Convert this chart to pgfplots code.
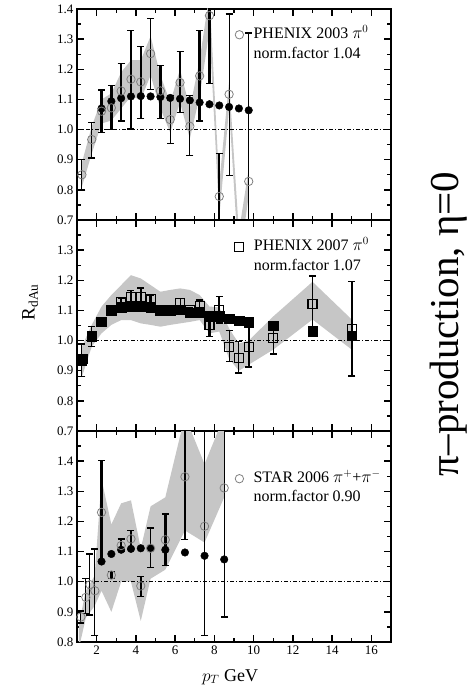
\documentclass[border=0pt]{standalone}
\usepackage{fontspec}
\setmainfont{Liberation Serif}
\usepackage{pgfplots}
\pgfplotsset{compat=1.18}

\pgfplotsset{
  panel/.style={
    at={(77pt,#1)}, anchor=south west,
    width=314pt, height=211pt, scale only axis,
    xmin=1, xmax=17,
    xtick={2,4,6,8,10,12,14,16}, minor xtick={3,5,7,9,11,13,15},
    minor y tick num=1,
    tick align=inside,
    major tick length=7pt, minor tick length=4pt,
    every tick/.style={black, line width=1.3pt},
    axis line style={line width=1.6pt},
    tick label style={font=\fontsize{13}{13}\selectfont},
    /pgf/number format/assume math mode=true,
    legend style={draw=none, fill=none, inner sep=0pt, outer sep=0pt,
      font=\fontsize{16}{16}\selectfont, row sep=3pt, column sep=9pt,
      nodes={inner sep=1pt, text height=11pt, text depth=3.5pt},
      at={(rel axis cs:0.49,0.917)}, anchor=north west},
    legend cell align=left,
  },
  band/.style={fill=gray!45, draw=none, forget plot},
  unity/.style={black, line width=0.7pt, dash pattern=on 4pt off 2pt on 1pt off 2pt, forget plot},
  theoc/.style={only marks, mark=*, mark size=3.8pt, black, forget plot},
  theos/.style={only marks, mark=square*, mark size=4.8pt, black, forget plot},
  errbase/.style={only marks, black, forget plot,
    error bars/y dir=both, error bars/y explicit,
    error bars/error bar style={black, line width=#1},
    error bars/error mark options={rotate=90, black, line width=1.4pt, mark size=3.5pt}},
  datac/.style={errbase=#1, mark=o, mark size=4.2pt, mark options={draw=gray, line width=0.8pt}},
  datas/.style={errbase=#1, mark=square, mark size=4.5pt, mark options={draw=black, line width=1.1pt}},
}

\begin{document}
\begin{tikzpicture}
\useasboundingbox (0,0) rectangle (466pt,688pt);

% ---------------- top panel: PHENIX 2003 ----------------
\begin{axis}[panel=468pt, ymin=0.7, ymax=1.4,
  ytick={0.7,0.8,0.9,1.0,1.1,1.2,1.3,1.4},
  yticklabels={0.7,0.8,0.9,1.0,1.1,1.2,1.3,1.4},
  xticklabels={}]
\addplot[band] coordinates {
 (1.25,0.89) (1.75,1.01) (2.25,1.10) (2.75,1.12) (3.25,1.19) (3.75,1.23) (4.25,1.23)
 (4.75,1.31) (5.25,1.18) (5.75,1.09) (6.25,1.20) (6.75,1.07) (7.25,1.23) (7.75,1.45)
 (8.25,0.82) (8.75,1.16) (9.25,0.66) (9.75,0.87)
 (9.75,0.78) (9.25,0.55) (8.75,1.07) (8.25,0.71) (7.75,1.33) (7.25,1.11) (6.75,0.97)
 (6.25,1.09) (5.75,0.99) (5.25,1.07) (4.75,1.18) (4.25,1.10) (3.75,1.11) (3.25,1.07)
 (2.75,1.03) (2.25,1.02) (1.75,0.92) (1.25,0.81)} -- cycle;
\addplot[unity] coordinates {(1,1) (17,1)};
\addplot[theoc] coordinates {
 (2.25,1.070) (2.75,1.094) (3.25,1.104) (3.75,1.110) (4.25,1.111) (4.75,1.110)
 (5.25,1.108) (5.75,1.105) (6.25,1.102) (6.75,1.097) (7.25,1.090) (7.75,1.084)
 (8.25,1.080) (8.75,1.075) (9.25,1.070) (9.75,1.064)};
\addplot[datac=1pt] coordinates {
 (1.25,0.850) += (0,0.050) -= (0,0.050)
 (1.75,0.967) += (0,0.057) -= (0,0.061)
 (4.75,1.252) += (0,0.117) -= (0,0.119)
 (5.75,1.033) += (0,0.080) -= (0,0.080)
 (6.75,1.011) += (0,0.102) -= (0,0.098)
 (8.75,1.117) += (0,0.267) -= (0,0.270)
 (9.75,0.828) += (0,0.492) -= (0,0.250)};
\addplot[datac=2.4pt] coordinates {
 (2.25,1.061) += (0,0.070) -= (0,0.070)
 (2.75,1.072) += (0,0.075) -= (0,0.072)
 (3.25,1.128) += (0,0.092) -= (0,0.100)
 (3.75,1.167) += (0,0.161) -= (0,0.165)
 (4.25,1.158) += (0,0.118) -= (0,0.122)
 (5.25,1.128) += (0,0.085) -= (0,0.092)
 (6.25,1.156) += (0,0.102) -= (0,0.100)
 (7.25,1.178) += (0,0.150) -= (0,0.150)
 (7.75,1.378) += (0,0.200) -= (0,0.225)
 (8.25,0.778) += (0,0.142) -= (0,0.200)};
\addlegendimage{only marks, mark=o, mark size=4.2pt, draw=gray, line width=0.8pt}
\addlegendentry{PHENIX 2003 $\pi^0$}
\addlegendimage{empty legend}
\addlegendentry{norm.factor 1.04}
\end{axis}

% ---------------- middle panel: PHENIX 2007 ----------------
\begin{axis}[panel=257pt, ymin=0.7, ymax=1.4,
  ytick={0.7,0.8,0.9,1.0,1.1,1.2,1.3,1.4},
  yticklabels={0.7,0.8,0.9,1.0,1.1,1.2,1.3,},
  xticklabels={},
  legend style={at={(rel axis cs:0.49,0.912)}}]
\addplot[band] coordinates {
 (1.25,0.98) (1.75,1.052) (2.25,1.113) (2.75,1.151) (3.25,1.184) (3.75,1.217) (4.25,1.206)
 (4.75,1.184) (5.25,1.162) (5.75,1.168) (6.25,1.173) (6.75,1.168) (7.25,1.151) (7.75,1.113)
 (8.25,1.11) (8.75,1.04) (9.25,0.99) (9.75,1.00) (11,1.08) (13,1.195) (15,1.07)
 (15,0.97) (13,1.07) (11,0.97) (9.75,0.92) (9.25,0.90) (8.75,0.94) (8.25,1.03)
 (7.75,1.024) (7.25,1.068) (6.75,1.062) (6.25,1.057) (5.75,1.052) (5.25,1.046) (4.75,1.052)
 (4.25,1.057) (3.75,1.068) (3.25,1.068) (2.75,1.052) (2.25,1.024) (1.75,0.98) (1.25,0.88)} -- cycle;
\addplot[unity] coordinates {(1,1) (17,1)};
\addplot[theos] coordinates {
 (1.25,0.940) (1.75,1.015) (2.25,1.063) (2.75,1.100) (3.25,1.110) (3.75,1.113)
 (4.25,1.113) (4.75,1.110) (5.25,1.100) (5.75,1.100) (6.25,1.103) (6.75,1.093)
 (7.25,1.095) (7.75,1.080) (8.25,1.080) (8.75,1.072) (9.25,1.066) (9.75,1.061)
 (11,1.049) (13,1.032) (15,1.016)};
\addplot[datas=1pt] coordinates {
 (1.25,0.934) += (0,0.055) -= (0,0.053)
 (1.75,1.015) += (0,0.031) -= (0,0.035)
 (6.25,1.124) += (0,0.016) -= (0,0.019)
 (6.75,1.100) += (0,0.010) -= (0,0.020)
 (7.25,1.116) += (0,0.019) -= (0,0.020)
 (8.75,0.980) += (0,0.053) -= (0,0.050)
 (9.25,0.942) += (0,0.055) -= (0,0.050)
 (11,1.008) += (0,0.050) -= (0,0.053)
 (13,1.121) += (0,0.093) -= (0,0.091)};
\addplot[datas=2.4pt] coordinates {
 (2.25,1.063) += (0,0.012) -= (0,0.013)
 (2.75,1.100) += (0,0.010) -= (0,0.010)
 (3.25,1.129) += (0,0.011) -= (0,0.019)
 (3.75,1.144) += (0,0.022) -= (0,0.024)
 (4.25,1.144) += (0,0.030) -= (0,0.029)
 (4.75,1.137) += (0,0.013) -= (0,0.017)
 (5.25,1.100) += (0,0.010) -= (0,0.010)
 (5.75,1.102) += (0,0.013) -= (0,0.012)
 (7.75,1.052) += (0,0.039) -= (0,0.039)
 (8.25,1.100) += (0,0.046) -= (0,0.042)
 (9.75,0.980) += (0,0.078) -= (0,0.068)
 (15,1.038) += (0,0.157) -= (0,0.155)};
\addlegendimage{only marks, mark=square, mark size=4.5pt, black, line width=1.1pt}
\addlegendentry{PHENIX 2007 $\pi^0$}
\addlegendimage{empty legend}
\addlegendentry{norm.factor 1.07}
\end{axis}

% ---------------- bottom panel: STAR 2006 ----------------
\begin{axis}[panel=46pt, ymin=0.8, ymax=1.5,
  ytick={0.8,0.9,1.0,1.1,1.2,1.3,1.4,1.5},
  yticklabels={0.8,0.9,1.0,1.1,1.2,1.3,1.4,},
  xticklabels={2,4,6,8,10,12,14,16},
  legend style={at={(rel axis cs:0.49,0.813)}}]
\addplot[band] coordinates {
 (1.1,0.86) (1.45,0.97) (1.9,1.02) (2.25,1.34) (2.75,1.19) (3.25,1.26) (3.75,1.27)
 (4.25,1.11) (4.75,1.25) (5.5,1.28) (6.5,1.55) (7.5,1.39) (8.5,1.55)
 (8.5,1.28) (7.5,1.13) (6.5,1.17) (5.5,1.04) (4.75,1.01) (4.25,0.87) (3.75,1.00)
 (3.25,1.00) (2.75,0.90) (2.25,0.97) (1.9,0.92) (1.45,0.88) (1.1,0.78)} -- cycle;
\addplot[unity] coordinates {(1,1) (17,1)};
\addplot[theoc] coordinates {
 (2.25,1.067) (2.75,1.092) (3.25,1.106) (3.75,1.109) (4.25,1.111) (4.75,1.111)
 (5.5,1.106) (6.5,1.097) (7.5,1.086) (8.5,1.074)};
\addplot[datac=1pt] coordinates {
 (1.20,0.883) += (0,0.020) -= (0,0.020)
 (1.45,0.948) += (0,0.063) -= (0,0.054)
 (1.66,0.990) += (0,0.102) -= (0,0.101)
 (1.91,0.970) += (0,0.139) -= (0,0.148)
 (4.75,1.111) += (0,0.067) -= (0,0.064)
 (7.5,1.184) += (0,0.500) -= (0,0.362)
 (8.5,1.311) += (0,0.400) -= (0,0.428)};
\addplot[datac=2.4pt] coordinates {
 (2.25,1.230) += (0,0.172) -= (0,0.163)
 (2.75,1.022) += (0,0.011) -= (0,0.011)
 (3.25,1.120) += (0,0.022) -= (0,0.020)
 (3.75,1.142) += (0,0.028) -= (0,0.036)
 (4.25,0.986) += (0,0.031) -= (0,0.036)
 (5.5,1.139) += (0,0.085) -= (0,0.086)
 (6.5,1.348) += (0,0.300) -= (0,0.207)};
\addlegendimage{only marks, mark=o, mark size=4.2pt, draw=gray, line width=0.8pt}
\addlegendentry{STAR 2006 $\pi^+$+$\pi^-$}
\addlegendimage{empty legend}
\addlegendentry{norm.factor 0.90}
\end{axis}

% axis titles and side caption
\node[rotate=90, font=\fontsize{19}{19}\selectfont] at (30pt,386pt) {R\textsubscript{dAu}};
\node[font=\fontsize{18}{18}\selectfont] at (230pt,11pt) {$p_T$ GeV};
\node[rotate=90, anchor=base, font=\fontsize{41}{41}\selectfont] at (458pt,364pt) {π–production, η=0};
\end{tikzpicture}
\end{document}
